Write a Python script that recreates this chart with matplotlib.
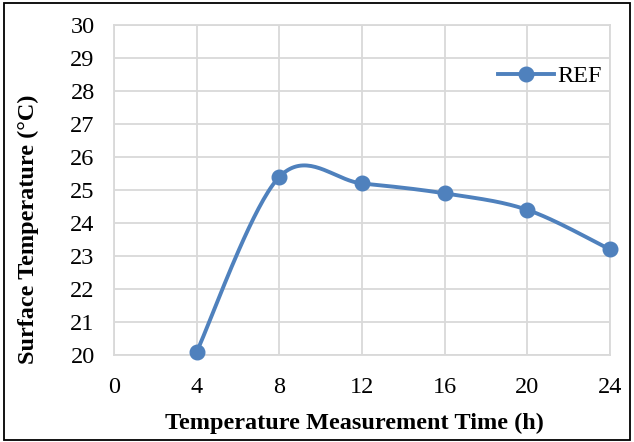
import numpy as np
import matplotlib
matplotlib.use("Agg")
import matplotlib.pyplot as plt
from matplotlib.patches import Rectangle

# data
hours = [4, 8, 12, 16, 20, 24]
temps = [20.1, 25.4, 25.2, 24.9, 24.4, 23.2]
x_ticks = [0, 4, 8, 12, 16, 20, 24]
y_ticks = [20, 21, 22, 23, 24, 25, 26, 27, 28, 29, 30]

plt.rcParams['font.family'] = ['Liberation Serif', 'DejaVu Serif']

fig = plt.figure(figsize=(6.34, 4.42), dpi=100)
ax = fig.add_axes([0.180, 0.197, 0.782, 0.746])
ax.set_xlim(0, 24)
ax.set_ylim(20, 30)

line_color = '#4f81bd'


def excel_smooth(xs, ys, ax, n=40):
    # Excel-style smoothed line: cubic Bezier segments computed in screen space
    pts = ax.transData.transform(np.column_stack([xs, ys]))
    p = np.vstack([pts[0], pts, pts[-1]])
    out = []
    t = np.linspace(0, 1, n)[:, None]
    for i in range(1, len(p) - 2):
        p0, p3 = p[i], p[i + 1]
        c1 = p0 + (p[i + 1] - p[i - 1]) / 6
        c2 = p3 - (p[i + 2] - p[i]) / 6
        seg = ((1 - t) ** 3) * p0 + 3 * ((1 - t) ** 2) * t * c1 + 3 * (1 - t) * t ** 2 * c2 + t ** 3 * p3
        out.append(seg)
    curve = np.vstack(out)
    return ax.transData.inverted().transform(curve)


curve = excel_smooth(hours, temps, ax)
ax.plot(curve[:, 0], curve[:, 1], color=line_color, lw=2.8, solid_capstyle='round', zorder=3)
ax.plot(hours, temps, 'o', color=line_color, ms=10.5, zorder=4, clip_on=False)
# legend proxy
ax.plot([], [], '-o', color=line_color, lw=2.8, ms=10.5, label='REF')

ax.set_xticks(x_ticks)
ax.set_yticks(y_ticks)
ax.grid(True, color='#d9d9d9', lw=1.3)
ax.set_axisbelow(True)
for s in ax.spines.values():
    s.set_color('#d9d9d9')
    s.set_linewidth(1.3)
ax.tick_params(length=0, labelsize=17.5)
ax.tick_params(axis='x', pad=16)
ax.tick_params(axis='y', pad=14)

ax.set_xlabel('Temperature Measurement Time (h)', fontsize=17.5, fontweight='bold')
ax.set_ylabel('Surface Temperature (°C)', fontsize=17.5, fontweight='bold')
ax.xaxis.set_label_coords(0.484, -0.175)
ax.yaxis.set_label_coords(-0.151, 0.382)

ax.legend(loc='upper right', bbox_to_anchor=(1.018, 0.93), frameon=False, fontsize=17.5,
          handlelength=2.3, handletextpad=0.15, borderaxespad=0.3)

# outer frame
fig.patches.append(Rectangle((0.006, 0.004), 0.988, 0.99, transform=fig.transFigure,
                             fill=False, edgecolor='black', lw=1.3))

fig.savefig('out.png', dpi=100)
